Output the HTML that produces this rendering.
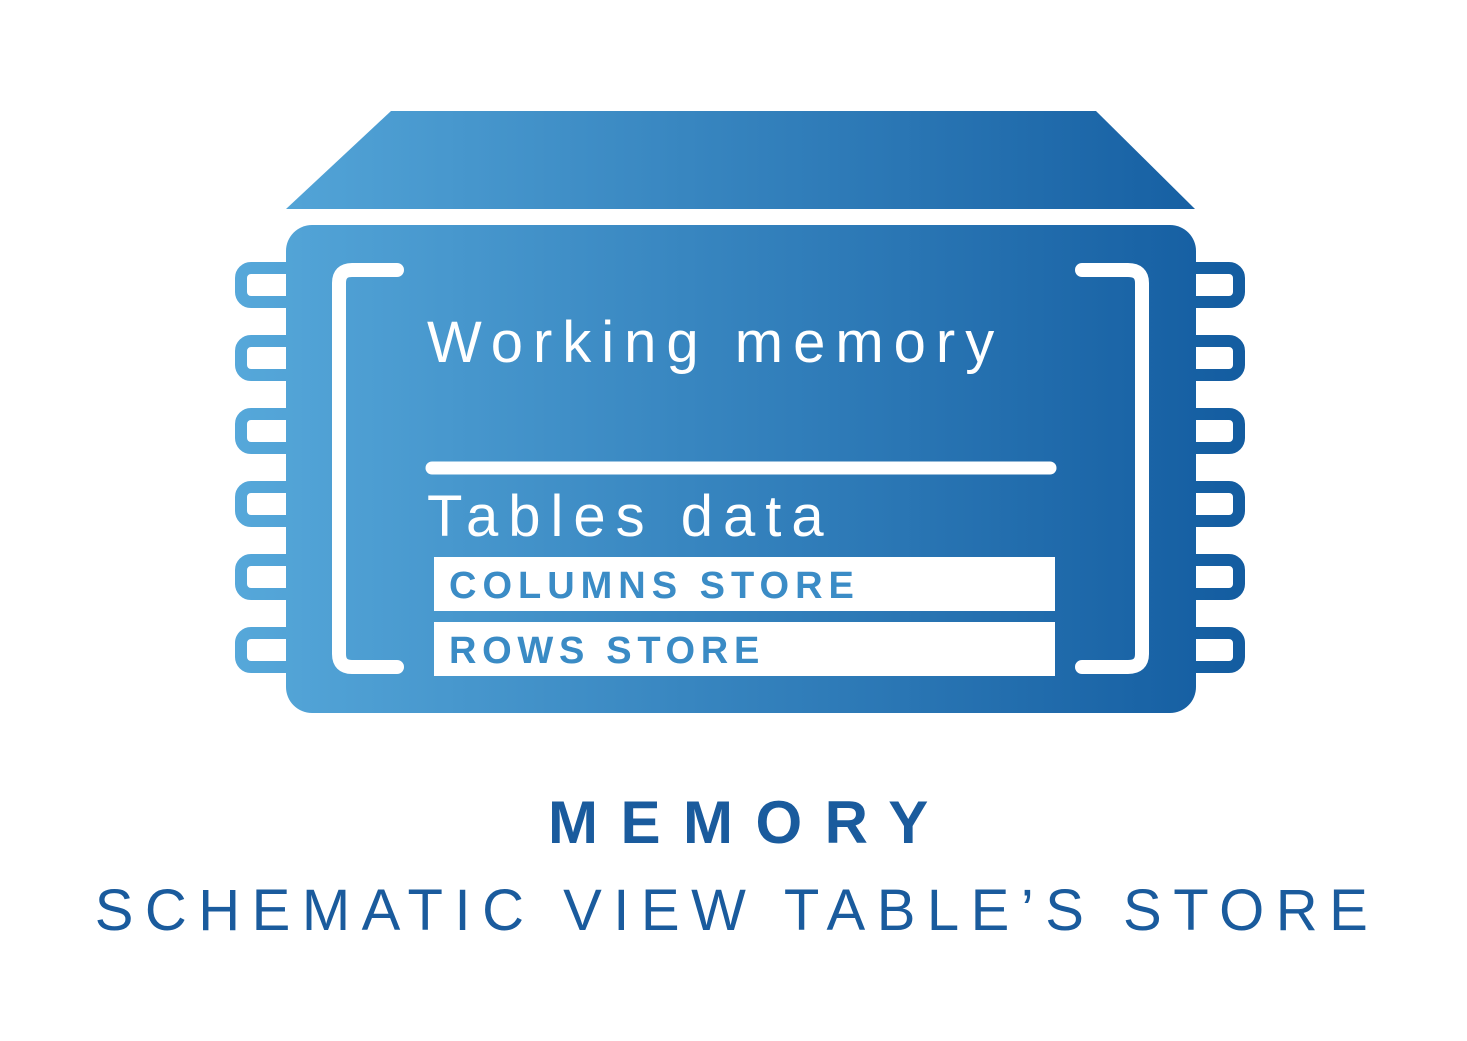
<!DOCTYPE html>
<html><head><style>
html,body{margin:0;padding:0;background:#fff;}
svg{display:block;}
</style></head><body>
<svg width="1467" height="1041" viewBox="0 0 1467 1041" xmlns="http://www.w3.org/2000/svg">
<defs>
<linearGradient id="g" x1="230" y1="0" x2="1250" y2="0" gradientUnits="userSpaceOnUse">
<stop offset="0" stop-color="#56a8da"/>
<stop offset="1" stop-color="#135ca0"/>
</linearGradient>
</defs>
<rect width="1467" height="1041" fill="#fff"/>
<polygon points="391,111 1096,111 1195,209 286,209" fill="url(#g)"/>
<g fill="none" stroke="url(#g)" stroke-width="12">
<rect x="241" y="268" width="60" height="34" rx="10"/>
<rect x="241" y="341" width="60" height="34" rx="10"/>
<rect x="241" y="414" width="60" height="34" rx="10"/>
<rect x="241" y="487" width="60" height="34" rx="10"/>
<rect x="241" y="560" width="60" height="34" rx="10"/>
<rect x="241" y="633" width="60" height="34" rx="10"/>
<rect x="1181" y="268" width="58" height="34" rx="10"/>
<rect x="1181" y="341" width="58" height="34" rx="10"/>
<rect x="1181" y="414" width="58" height="34" rx="10"/>
<rect x="1181" y="487" width="58" height="34" rx="10"/>
<rect x="1181" y="560" width="58" height="34" rx="10"/>
<rect x="1181" y="633" width="58" height="34" rx="10"/>
</g>
<rect x="286" y="225" width="910" height="488" rx="26" fill="url(#g)"/>
<g fill="none" stroke="#fff" stroke-width="14" stroke-linecap="round" stroke-linejoin="round">
<path d="M397,270 L352,270 Q339,270 339,283 L339,654 Q339,667 352,667 L397,667"/>
<path d="M1082,270 L1128,270 Q1142,270 1142,283 L1142,654 Q1142,667 1128,667 L1082,667"/>
<line x1="432" y1="468" x2="1050" y2="468" stroke-width="13"/>
</g>
<text x="427" y="362" font-family="Liberation Sans, sans-serif" font-size="58" fill="#fff" letter-spacing="10">Working memory</text>
<text x="427" y="536" font-family="Liberation Sans, sans-serif" font-size="58" fill="#fff" letter-spacing="10">Tables data</text>
<rect x="434" y="557" width="621" height="54" fill="#fff"/>
<rect x="434" y="622" width="621" height="54" fill="#fff"/>
<text x="449" y="598" font-family="Liberation Sans, sans-serif" font-weight="bold" font-size="38" fill="#3b8cc6" letter-spacing="6">COLUMNS STORE</text>
<text x="449" y="663" font-family="Liberation Sans, sans-serif" font-weight="bold" font-size="38" fill="#3a8bc5" letter-spacing="5.7">ROWS STORE</text>
<text x="548" y="843" font-family="Liberation Sans, sans-serif" font-weight="bold" font-size="60" fill="#1a5b9d" letter-spacing="22.5">MEMORY</text>
<text x="737" y="930" text-anchor="middle" font-family="Liberation Sans, sans-serif" font-size="58" fill="#1a5b9d" letter-spacing="11.5">SCHEMATIC VIEW TABLE’S STORE</text>
</svg>
</body></html>
